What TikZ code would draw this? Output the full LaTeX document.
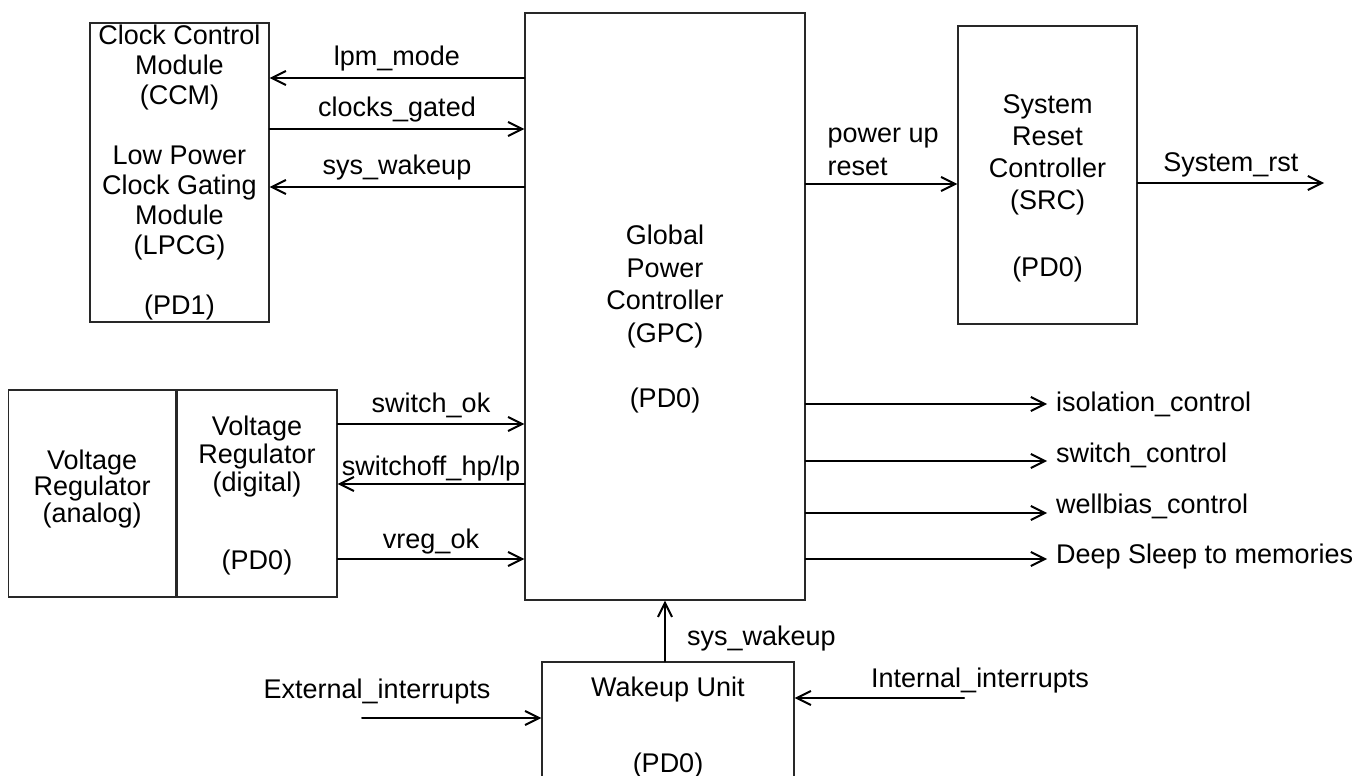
\documentclass[tikz,border=0pt]{standalone}
\usepackage{fontspec}
\setmainfont{Liberation Sans}
\usetikzlibrary{arrows.meta, positioning, calc}
\definecolor{pwrLine}{RGB}{40,40,40}
\newcommand{\boxfont}[1]{\fontsize{27}{#1}\selectfont}
\tikzset{
    pwr/.style={x=1pt, y=-1pt, >={Straight Barb[length=14pt, width=14pt]},
                line cap=round, font=\boxfont{30}},
    block/.style={draw=pwrLine, line width=1.3pt, inner sep=0pt},
    blocktext/.style={align=center, inner sep=0pt},
    sig/.style={->, line width=2pt, draw=black},
    siglabel/.style={anchor=base, inner sep=0pt, yshift=#1},
    siglabel/.default=12pt,
    outlabel/.style={anchor=base west, inner sep=0pt, xshift=8pt},
}

\begin{document}
\begin{tikzpicture}[pwr]
\useasboundingbox (0,0) rectangle (1358,776);

% --- Global Power Controller --------------------------------------------
\node[block, minimum width=280pt, minimum height=587pt,
      label={[blocktext, font=\boxfont{32.5}, yshift=-12.5pt]center:{Global\\Power\\Controller\\(GPC)\\[32.5pt](PD0)}}]
      (gpc) at (665,306.5) {};

% --- Clock Control Module -----------------------------------------------
\node[block, minimum width=179pt, minimum height=299pt,
      label={[blocktext, font=\boxfont{30}]center:{Clock Control\\Module\\(CCM)\\[30pt]Low Power\\Clock Gating\\Module\\(LPCG)\\[30pt](PD1)}}]
      (ccm) at (179.5,172.5) {};

% --- System Reset Controller --------------------------------------------
\node[block, minimum width=179pt, minimum height=298pt,
      label={[blocktext, font=\boxfont{32}, yshift=-13.5pt]center:{System\\Reset\\Controller\\(SRC)\\[35pt](PD0)}}]
      (src) at (1047.5,175) {};

% --- Voltage regulators -------------------------------------------------
\node[block, minimum width=160pt, minimum height=207pt,
      label={[blocktext, font=\boxfont{28}, yshift=-2pt]center:{Voltage\\Regulator\\(digital)\\[50pt](PD0)}}]
      (vrd) at (257,493.5) {};
\node[block, minimum width=167pt, minimum height=207pt, left=0pt of vrd,
      label={[blocktext, font=\boxfont{26.5}, yshift=4.5pt]center:{Voltage\\Regulator\\(analog)}}]
      (vra) {};

% --- Wakeup Unit --------------------------------------------------------
\node[block, minimum width=252pt, minimum height=128pt,
      label={[blocktext, font=\boxfont{30}, yshift=-1.5pt]center:{Wakeup Unit\\[46pt](PD0)}}]
      (wku) at (668,726) {};

% --- free ends ----------------------------------------------------------
\coordinate (rst)  at (1324,183);
\coordinate (iso)  at (1047,404);
\coordinate (swc)  at (1047,461);
\coordinate (wbc)  at (1047,513);
\coordinate (dsm)  at (1047,559);
\coordinate (ext)  at (362,718);
\coordinate (int)  at (964,698);

% --- CCM <-> GPC --------------------------------------------------------
\draw[sig] (gpc.west |- 0,78)  -- node[siglabel] {lpm\_mode} (ccm.east |- 0,78);
\draw[sig] (ccm.east |- 0,129) -- node[siglabel] {clocks\_gated} (gpc.west |- 0,129);
\draw[sig] (gpc.west |- 0,187) -- node[siglabel=13pt] {sys\_wakeup} (ccm.east |- 0,187);

% --- regulator <-> GPC --------------------------------------------------
\draw[sig] (vrd.east |- 0,424) -- node[siglabel] {switch\_ok} (gpc.west |- 0,424);
\draw[sig] (gpc.west |- 0,484) -- node[siglabel=9pt] {switchoff\_hp/lp} (vrd.east |- 0,484);
\draw[sig] (vrd.east |- 0,559) -- node[siglabel=11pt] {vreg\_ok} (gpc.west |- 0,559);

% --- reset path ---------------------------------------------------------
\draw[sig] (gpc.east |- 0,184)
    node[anchor=south west, align=left, inner sep=0pt, font=\boxfont{33},
         xshift=21pt, yshift=7pt] {power up\\reset}
    -- (src.west |- 0,184);
\draw[sig] (src.east |- rst) -- node[siglabel] {System\_rst} (rst);

% --- GPC outputs --------------------------------------------------------
\draw[sig] (gpc.east |- iso) -- (iso) node[outlabel, yshift=-7pt] {isolation\_control};
\draw[sig] (gpc.east |- swc) -- (swc) node[outlabel, yshift=-1pt] {switch\_control};
\draw[sig] (gpc.east |- wbc) -- (wbc) node[outlabel] {wellbias\_control};
\draw[sig] (gpc.east |- dsm) -- (dsm) node[outlabel, yshift=-4pt] {Deep Sleep to memories};

% --- wakeup -------------------------------------------------------------
\draw[sig] (gpc.south |- wku.north)
    -- node[anchor=base west, inner sep=0pt, xshift=21pt, yshift=-14pt] {sys\_wakeup}
    (gpc.south);
\draw[sig] (ext) node[siglabel=20pt, xshift=15pt] {External\_interrupts} -- (wku.west |- ext);
\draw[sig] (int) node[siglabel=11pt, xshift=16pt] {Internal\_interrupts} -- (wku.east |- int);

\end{tikzpicture}
\end{document}
